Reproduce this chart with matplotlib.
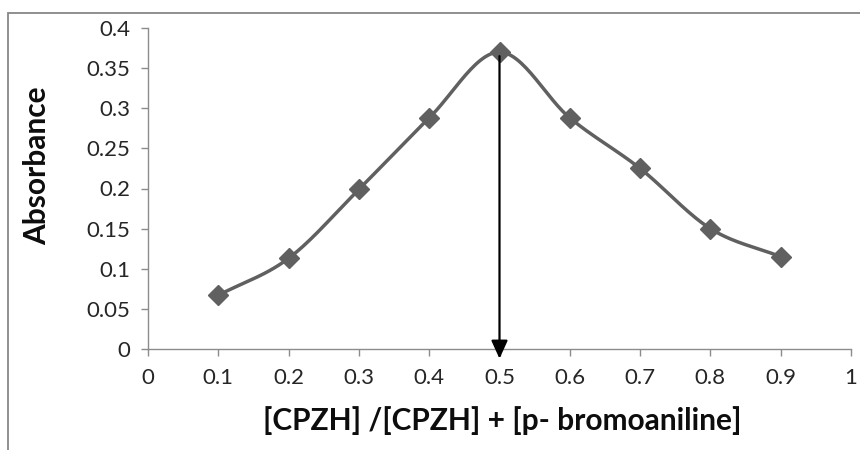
import numpy as np
import matplotlib.pyplot as plt
from matplotlib.patches import Rectangle

plt.rcParams['font.family'] = ['Lato', 'DejaVu Sans']

mole_fraction = [0.1, 0.2, 0.3, 0.4, 0.5, 0.6, 0.7, 0.8, 0.9]
absorbance = [0.067, 0.113, 0.199, 0.288, 0.370, 0.288, 0.225, 0.150, 0.115]
peak_x = 0.5


def smooth(x, y, n=30):
    # Catmull-Rom style curve, like Excel's "smoothed line"
    x = np.asarray(x, float)
    y = np.asarray(y, float)
    px = np.concatenate([[2 * x[0] - x[1]], x, [2 * x[-1] - x[-2]]])
    py = np.concatenate([[2 * y[0] - y[1]], y, [2 * y[-1] - y[-2]]])
    xs, ys = [], []
    t = np.linspace(0, 1, n)
    for i in range(1, len(px) - 2):
        for arr, out in ((px, xs), (py, ys)):
            p0, p1, p2, p3 = arr[i - 1], arr[i], arr[i + 1], arr[i + 2]
            m1 = (p2 - p0) / 2
            m2 = (p3 - p1) / 2
            h00 = 2 * t**3 - 3 * t**2 + 1
            h10 = t**3 - 2 * t**2 + t
            h01 = -2 * t**3 + 3 * t**2
            h11 = t**3 - t**2
            out.extend(h00 * p1 + h10 * m1 + h01 * p2 + h11 * m2)
    return np.array(xs), np.array(ys)


fig = plt.figure(figsize=(8.6, 4.5), dpi=100)
fig.patches.append(Rectangle((8 / 860, -0.1), 1.2, 1 - 13 / 450 + 0.1,
                             transform=fig.transFigure, fill=False,
                             edgecolor='#878787', linewidth=1.3))
ax = fig.add_axes([148 / 860, 1 - 349 / 450, (851 - 148) / 860, (349 - 28) / 450])

sx, sy = smooth(mole_fraction, absorbance)
ax.plot(sx, sy, color='#606060', linewidth=2.5, zorder=2)
ax.plot(mole_fraction, absorbance, linestyle='none', marker='D',
        markersize=10, color='#606060', zorder=3)

peak_y = absorbance[mole_fraction.index(peak_x)]
ax.annotate('', xy=(peak_x, -0.012), xytext=(peak_x, peak_y - 0.005),
            arrowprops=dict(arrowstyle='-|>,head_length=1.1,head_width=0.5',
                            color='black', linewidth=1.6, shrinkA=0, shrinkB=0),
            annotation_clip=False, zorder=4)

ax.set_xlim(0, 1)
ax.set_ylim(0, 0.4)
ax.set_xticks(np.arange(0, 1.01, 0.1))
ax.set_xticklabels(['0', '0.1', '0.2', '0.3', '0.4', '0.5', '0.6', '0.7', '0.8', '0.9', '1'])
ax.set_yticks(np.arange(0, 0.401, 0.05))
ax.set_yticklabels(['0', '0.05', '0.1', '0.15', '0.2', '0.25', '0.3', '0.35', '0.4'])

for s in ['top', 'right']:
    ax.spines[s].set_visible(False)
for s in ['left', 'bottom']:
    ax.spines[s].set_color('#8c8c8c')
    ax.spines[s].set_linewidth(1.0)
ax.tick_params(axis='both', colors='#8c8c8c', length=5, width=1.0,
               labelsize=16, labelcolor='#262626')
ax.tick_params(axis='x', pad=9)
ax.tick_params(axis='y', pad=8)

ax.set_xlabel('[CPZH] /[CPZH] + [p- bromoaniline]', fontsize=21.5,
              fontweight='bold', color='#0d0d0d', va='center')
ax.set_ylabel('Absorbance', fontsize=21.5, fontweight='bold',
              color='#0d0d0d', va='center')
ax.xaxis.set_label_coords((502 - 148) / 703, (349 - 421) / 321)
ax.yaxis.set_label_coords((37 - 148) / 703, (349 - 166) / 321)

fig.savefig('out.png', dpi=100)
